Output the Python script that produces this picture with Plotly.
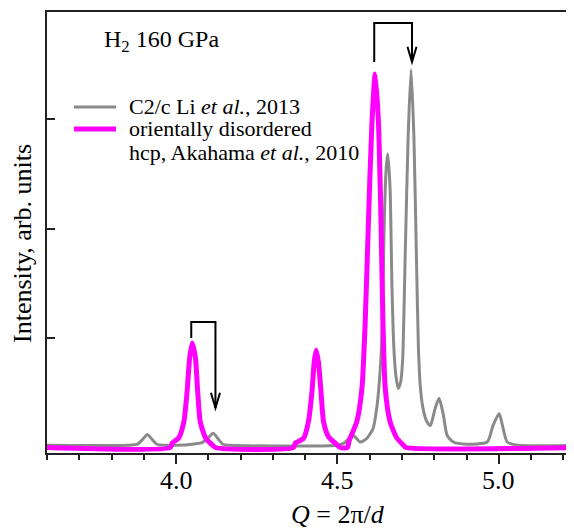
import plotly.graph_objects as go

# ---------------- data ----------------
# C2/c, Li et al., 2013 (grey)
q_c2c = [3.60, 3.85, 3.88, 3.895, 3.911, 3.927, 3.94, 3.97, 4.00, 4.05, 4.08, 4.097,
         4.115, 4.13, 4.145, 4.17, 4.50, 4.52, 4.535, 4.549, 4.56, 4.571, 4.59, 4.61,
         4.623, 4.632, 4.638, 4.645, 4.651, 4.656, 4.663, 4.669, 4.675, 4.681, 4.688,
         4.696, 4.702, 4.710, 4.719, 4.728, 4.737, 4.745, 4.751, 4.757, 4.765, 4.778,
         4.788, 4.803, 4.815, 4.828, 4.840, 4.859, 4.90, 4.964, 4.982, 5.001, 5.013,
         5.026, 5.06, 5.24]
i_c2c = [0.02, 0.02, 0.03, 0.07, 0.12, 0.07, 0.03, 0.02, 0.02, 0.03, 0.045, 0.08,
         0.13, 0.08, 0.03, 0.02, 0.02, 0.04, 0.08, 0.11, 0.08, 0.05, 0.08, 0.17,
         0.39, 0.69, 1.05, 2.06, 2.55, 2.68, 2.37, 1.46, 0.90, 0.66, 0.54,
         0.60, 0.80, 1.76, 2.83, 3.45, 2.83, 1.70, 0.90, 0.55, 0.36, 0.23,
         0.20, 0.36, 0.45, 0.30, 0.11, 0.05, 0.03, 0.05, 0.20, 0.31, 0.18,
         0.05, 0.02, 0.02]

# orientally disordered hcp, Akahama et al., 2010 (magenta)
q_hcp = [3.60, 3.982, 3.988, 4.008, 4.024, 4.034, 4.042, 4.050, 4.060, 4.067, 4.075,
         4.091, 4.106, 4.122, 4.364, 4.369, 4.395, 4.410, 4.421, 4.428, 4.434, 4.441,
         4.449, 4.457, 4.472, 4.493, 4.509, 4.531, 4.536, 4.560, 4.576, 4.586, 4.596,
         4.607, 4.617, 4.627, 4.635, 4.641, 4.648, 4.663, 4.684, 4.705, 4.712, 5.24]
i_hcp = [0.00, 0.00, 0.04, 0.087, 0.233, 0.507, 0.817, 0.954, 0.817, 0.507, 0.233,
         0.09, 0.04, 0.00, 0.00, 0.04, 0.084, 0.236, 0.51, 0.78, 0.89, 0.78,
         0.51, 0.236, 0.10, 0.04, 0.00, 0.00, 0.06, 0.236, 0.543, 1.146, 2.062,
         2.975, 3.411, 2.975, 2.062, 1.146, 0.543, 0.236, 0.087, 0.02, 0.00, 0.00]

x_tick_vals = [4.0, 4.5, 5.0]
x_tick_text = ["4.0", "4.5", "5.0"]
y_tick_vals = [1, 2, 3]

# shift brackets: (left x, right x, bracket top y, left start y, arrow tip y)
bracket_hi = (4.614, 4.731, 3.877, 3.52, 3.52)
bracket_lo = (4.047, 4.122, 1.146, 1.00, 0.361)

FONT = "Liberation Serif"
GREY = "#8a8a8a"
MAG = "#ff00ff"

# the page body has an 8 px margin: figure sits at (8, 8) in the window
OFF = 8
FIG_W, FIG_H = 574 - OFF, 530 - OFF
# plot-area geometry in window pixels
L, R, T, B = 47, 574, 12, 453
def px(xp):
    return (xp - L) / (R - L)
def py(yp):
    return (B - yp) / (B - T)

fig = go.Figure()
fig.add_trace(go.Scatter(x=q_c2c, y=i_c2c, mode="lines", showlegend=False,
                         line=dict(color=GREY, width=3, shape="spline", smoothing=0.6)))
fig.add_trace(go.Scatter(x=q_hcp, y=i_hcp, mode="lines", showlegend=False,
                         line=dict(color=MAG, width=5, shape="spline", smoothing=0.6)))

shapes = []
for (xl, xr, ytop, yl, ytip) in (bracket_hi, bracket_lo):
    shapes.append(dict(type="path", xref="x", yref="y",
                       path=f"M {xl},{yl} L {xl},{ytop} L {xr},{ytop} L {xr},{ytip}",
                       line=dict(color="black", width=2)))
    dx = 0.0140
    dy = 0.14
    shapes.append(dict(type="path", xref="x", yref="y",
                       path=f"M {xr-dx},{ytip+dy} L {xr},{ytip} L {xr+dx},{ytip+dy}",
                       line=dict(color="black", width=2)))

# legend samples
shapes.append(dict(type="line", xref="paper", yref="paper", x0=px(74), x1=px(116),
                   y0=py(107), y1=py(107), line=dict(color=GREY, width=3)))
shapes.append(dict(type="line", xref="paper", yref="paper", x0=px(74), x1=px(116),
                   y0=py(129), y1=py(129), line=dict(color=MAG, width=5)))

annotations = [
    dict(text="H<sub>2</sub> 160 GPa", xref="paper", yref="paper", x=px(102), y=py(41),
         xanchor="left", yanchor="middle", showarrow=False,
         font=dict(family=FONT, size=24, color="black")),
    dict(text="C2/c Li <i>et al.</i>, 2013", xref="paper", yref="paper", x=px(127), y=py(106),
         xanchor="left", yanchor="middle", showarrow=False,
         font=dict(family=FONT, size=22, color="black")),
    dict(text="orientally disordered", xref="paper", yref="paper", x=px(127), y=py(129),
         xanchor="left", yanchor="middle", showarrow=False,
         font=dict(family=FONT, size=22, color="black")),
    dict(text="hcp, Akahama <i>et al.</i>, 2010", xref="paper", yref="paper", x=px(127), y=py(152),
         xanchor="left", yanchor="middle", showarrow=False,
         font=dict(family=FONT, size=22, color="black")),
    dict(text="Intensity, arb. units", xref="paper", yref="paper", x=px(22), y=py(244),
         xanchor="center", yanchor="middle", textangle=-90, showarrow=False,
         font=dict(family=FONT, size=26, color="black")),
    dict(text="<i>Q</i> = 2π/<i>d</i>", xref="paper", yref="paper", x=px(338), y=py(514),
         xanchor="center", yanchor="middle", showarrow=False,
         font=dict(family=FONT, size=26, color="black")),
]
# x tick labels, placed at their data positions
for v, t in zip(x_tick_vals, x_tick_text):
    annotations.append(dict(text=t, xref="x", yref="paper", x=v, y=py(480),
                            xanchor="center", yanchor="middle", showarrow=False,
                            font=dict(family=FONT, size=26, color="black")))

fig.update_layout(
    width=FIG_W, height=FIG_H,
    margin=dict(l=L - OFF, r=0, t=T - OFF, b=FIG_H - (B - OFF)),
    paper_bgcolor="white", plot_bgcolor="white",
    shapes=shapes, annotations=annotations,
    font=dict(family=FONT, size=24, color="black"),
)
fig.update_xaxes(range=[3.6, 5.233], tickvals=x_tick_vals, showticklabels=False,
                 ticks="outside", ticklen=9, tickwidth=2, tickcolor="#222",
                 showline=True, linewidth=2, linecolor="#222", mirror=True,
                 showgrid=False, zeroline=False,
                 minor=dict(dtick=0.1, tick0=3.6, ticks="outside", ticklen=5,
                            tickwidth=2, tickcolor="#222", showgrid=False))
fig.update_yaxes(range=[-0.05, 3.977], tickvals=y_tick_vals, showticklabels=False,
                 ticks="inside", ticklen=8, tickwidth=2, tickcolor="#222",
                 showline=True, linewidth=2, linecolor="#222", mirror=False,
                 showgrid=False, zeroline=False)

fig.write_html("out.html")
